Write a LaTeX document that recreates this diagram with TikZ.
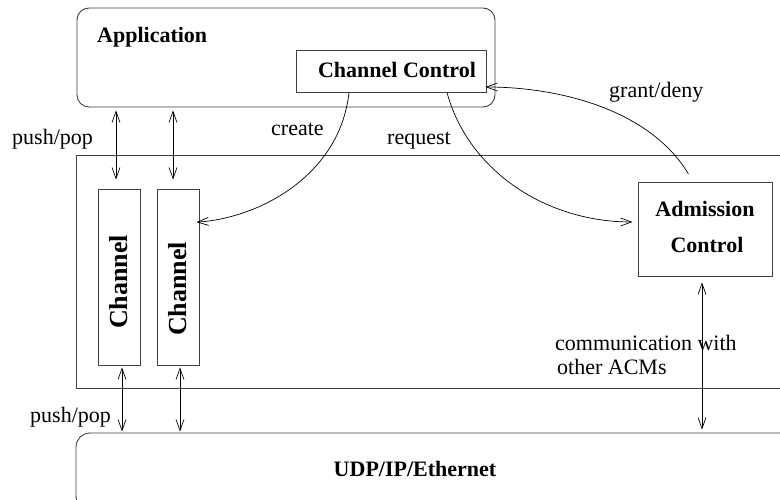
\documentclass[tikz,border=0pt]{standalone}
\usepackage{fontspec}
\setmainfont{Liberation Serif}
\usetikzlibrary{arrows.meta}
\begin{document}
\begin{tikzpicture}[x=1pt,y=-1pt,
  box/.style={draw=black!75,line width=0.9pt,inner sep=0pt,minimum width=#1},
  lbl/.style={font=\fontsize{22}{26}\selectfont,inner sep=0pt},
  blbl/.style={font=\fontsize{22}{26}\selectfont\bfseries,inner sep=0pt},
  tip/.style={-{Straight Barb[length=11pt,width=8pt]},line width=0.7pt},
  dbl/.style={{Straight Barb[length=11pt,width=8pt]}-{Straight Barb[length=11pt,width=8pt]},line width=0.7pt}]
\clip (0,0) rectangle (780,500);
\fill[white] (0,0) rectangle (780,500);
% boxes
\node[box=418pt,minimum height=99pt,rounded corners=12pt] (app) at (286,57.5) {};
\node[blbl,anchor=base west] (applbl) at (97,43) {Application};
\node[box=190pt,minimum height=42pt] (cc) at (391,71) {};
\node[blbl,anchor=base] (cclbl) at (397,78) {Channel Control};
\node[box=744pt,minimum height=233pt] (mid) at (448,271.5) {};
\node[box=42pt,minimum height=176pt] (ch1) at (119,277) {};
\node[box=42pt,minimum height=176pt] (ch2) at (178,277) {};
\node[font=\fontsize{26}{30}\selectfont\bfseries,inner sep=0pt,rotate=90] (ch1lbl) at (119,282) {Channel};
\node[font=\fontsize{26}{30}\selectfont\bfseries,inner sep=0pt,rotate=90] (ch2lbl) at (178,289) {Channel};
\node[box=134pt,minimum height=94pt] (adm) at (705,229) {};
\node[blbl,anchor=base] (admlbl1) at (705,217) {Admission};
\node[blbl,anchor=base] (admlbl2) at (707,252) {Control};
\node[box=764pt,minimum height=77pt,rounded corners=14pt] (udp) at (458,471.5) {};
\node[blbl,anchor=base] (udplbl) at (415,476) {UDP/IP/Ethernet};
% labels
\node[lbl,anchor=base west] (pp1) at (12,145) {push/pop};
\node[lbl,anchor=base west] (pp2) at (30,422) {push/pop};
\node[lbl,anchor=base west] (crl) at (271,136) {create};
\node[lbl,anchor=base west] (rql) at (387,145) {request};
\node[lbl,anchor=base west] (gdl) at (609,98) {grant/deny};
\node[lbl,anchor=base west] (cm1) at (555,350) {communication with};
\node[lbl,anchor=base west] (cm2) at (557,374) {other ACMs};
% coordinates for connector x/y levels
\coordinate (a1) at (116,0);
\coordinate (a2) at (173,0);
\coordinate (b1) at (122,0);
\coordinate (b2) at (180,0);
\coordinate (b3) at (702,0);
\coordinate (c1) at (349,0);
\coordinate (c2) at (447,0);
\coordinate (c3) at (693,0);
\coordinate (y1) at (0,222);
\coordinate (y2) at (0,87);
% connectors
\draw[dbl,shorten <=3pt,shorten >=9pt] (a1 |- app.south) -- (a1 |- ch1.north);
\draw[dbl,shorten <=3pt,shorten >=9pt] (a2 |- app.south) -- (a2 |- ch2.north);
\draw[dbl,shorten <=2pt,shorten >=1pt] (b1 |- ch1.south) -- (b1 |- udp.north);
\draw[dbl,shorten <=2pt,shorten >=1pt] (b2 |- ch2.south) -- (b2 |- udp.north);
\draw[dbl,shorten <=6pt,shorten >=3pt] (b3 |- adm.south) -- (b3 |- udp.north);
\draw[tip,shorten >=-3pt] (c1 |- cc.south) .. controls (340,175) and (260,218) .. (ch2.east |- y1);
\draw[tip,shorten >=5pt] (c2 |- cc.south) .. controls (468,170) and (545,222) .. (adm.west |- y1);
\draw[tip,shorten <=9pt,shorten >=-1pt] (c3 |- adm.north) .. controls (650,110) and (560,87) .. (cc.east |- y2);
\end{tikzpicture}
\end{document}
